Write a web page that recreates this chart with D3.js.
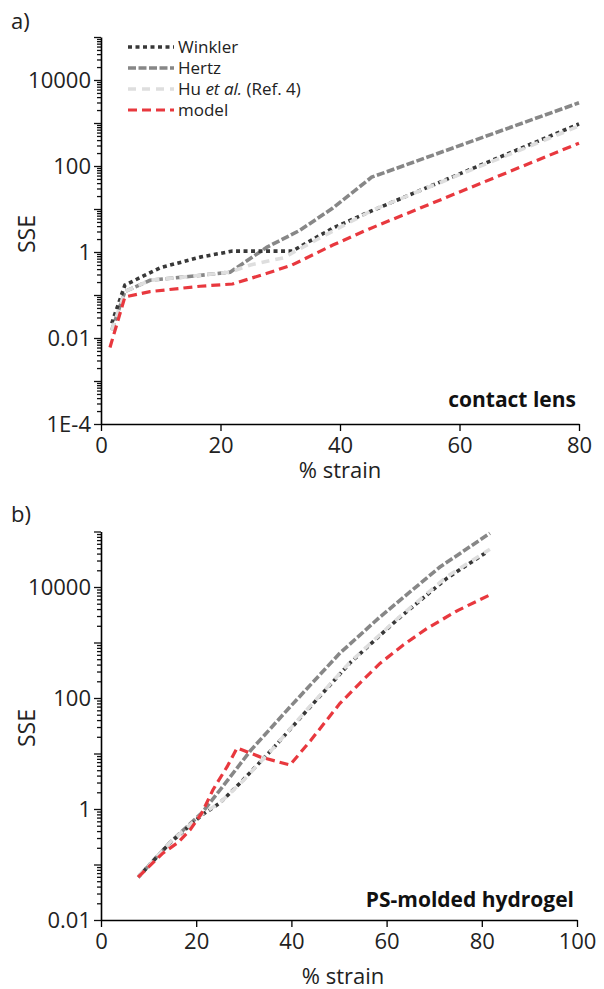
<!DOCTYPE html>
<html>
<head>
<meta charset="utf-8">
<script src="https://cdn.jsdelivr.net/npm/d3@7"></script>
<style>
  body { margin: 0; background: #fff; }
  svg text { font-family: "Open Sans", "Noto Sans", sans-serif; }
</style>
</head>
<body>
<div id="chart"></div>
<script>
// series names, colours and dash styles of the legend
let seriesNames = ["Winkler", "Hertz", "Hu et al. (Ref. 4)", "model"];

// panel a) contact lens  -- [% strain, SSE]
let lensWinkler = [[1.8,0.022],[4,0.17],[9.9,0.43],[16.6,0.76],[22,1.05],[32,1.05],[38.8,3.6],[44.5,8.1],[49.5,16],[80,950]];
let lensHertz = [[1.8,0.015],[4,0.12],[8.2,0.22],[13.7,0.26],[21.6,0.34],[27.8,1.3],[33.3,3.2],[38.8,10.5],[45.3,55],[80,2950]];
let lensHu = [[1.8,0.015],[4,0.12],[8.2,0.22],[13.7,0.26],[21.6,0.34],[25,0.5],[30.5,0.73],[36,1.9],[45.5,9.5],[80,850]];
let lensModel = [[1.5,0.006],[4,0.09],[8.2,0.12],[16.6,0.16],[22,0.18],[27.8,0.32],[32,0.5],[38.8,1.45],[44.8,3.4],[80,340]];

// panel b) PS-molded hydrogel
let hydroWinkler = [[7.8,0.059],[14.5,0.245],[21.2,0.78],[25,1.29],[29.8,3.3],[36,12],[43.3,60],[52.3,427],[62.2,2570],[72.7,14450],[80.7,40700]];
let hydroHertz = [[7.8,0.059],[14.5,0.25],[21.2,0.85],[25,2.2],[31.5,11.5],[39.5,66],[50.2,645],[58.6,2880],[71.2,22900],[81.7,93000]];
let hydroHu = [[7.8,0.059],[14.5,0.25],[21.2,0.8],[25,1.3],[29.8,3.2],[36,12],[43.3,62],[52.3,440],[62.2,2650],[72.7,15500],[81.7,48000]];
let hydroModel = [[7.8,0.059],[13,0.16],[16.2,0.25],[18.7,0.42],[21.2,0.85],[23.5,2.2],[26.5,5.8],[28.6,12.6],[33.4,8.7],[39.7,6.2],[44,17],[50.2,80],[54.5,190],[58.6,420],[63.5,900],[68.5,1800],[75,3800],[81.7,7200]];

let lensXTicks = [0, 20, 40, 60, 80];
let hydroXTicks = [0, 20, 40, 60, 80, 100];
let lensYLabels = [1e-4, 0.01, 1, 100, 10000];
let hydroYLabels = [0.01, 1, 100, 10000];

let styles = [
  {color: "#383838", dash: "4,3.5", width: 3.6},
  {color: "#878787", dash: "8,2.5", width: 3.6},
  {color: "#dedede", dash: "8,6", width: 3.6},
  {color: "#e8383e", dash: "9,5", width: 3.2}
];

const W = 604, H = 989;
const FONT = '"Open Sans", "Noto Sans", sans-serif';
const svg = d3.select("#chart").append("svg").attr("width", W).attr("height", H);

let yFmt = function(v){
  if (v === 1e-4) return "1E-4";
  return String(+v.toPrecision(3));
};

function minorTicks(lo, hi){
  let t = [];
  for (let e = Math.log10(lo); e < Math.log10(hi); e++){
    for (let m = 2; m <= 9; m++) t.push(m * Math.pow(10, e));
  }
  return t;
}
function decades(lo, hi){
  let t = [];
  for (let e = Math.log10(lo); e <= Math.log10(hi) + 1e-9; e++) t.push(Math.pow(10, e));
  return t;
}

function styleAxisText(a){
  a.attr("font-family", FONT).attr("font-size", null);
  a.selectAll("text").style("font-family", FONT).style("font-size", "22px").attr("fill", "#222");
}

function drawPanel(p){
  let x = d3.scaleLinear().domain(p.xDomain).range(p.xRange);
  let y = d3.scaleLog().domain(p.yDomain).range(p.yRange);
  let g = svg.append("g");

  // y axis: minor ticks, decade ticks, labels
  g.append("g").attr("transform", `translate(${p.xRange[0]},0)`)
    .call(d3.axisLeft(y).tickValues(minorTicks(p.yDomain[0], p.yDomain[1])).tickSize(4).tickSizeOuter(0).tickFormat(""))
    .call(a => a.select(".domain").remove());
  g.append("g").attr("transform", `translate(${p.xRange[0]},0)`)
    .call(d3.axisLeft(y).tickValues(decades(p.yDomain[0], p.yDomain[1])).tickSize(7).tickSizeOuter(0).tickPadding(3)
      .tickFormat(v => p.yLabels.some(l => Math.abs(l - v) / v < 1e-6) ? yFmt(v) : ""))
    .call(a => a.select(".domain").attr("stroke-width", 1.6))
    .call(styleAxisText);
  g.selectAll(".tick line").attr("stroke", "#111").attr("stroke-width", 1.3);

  // x axis
  g.append("g").attr("transform", `translate(0,${p.yRange[0]})`)
    .call(d3.axisBottom(x).tickValues(p.xTicks).tickSize(7).tickSizeOuter(0).tickPadding(6))
    .call(a => a.select(".domain").attr("stroke-width", 1.6))
    .call(a => a.selectAll(".tick line").attr("stroke-width", 1.3))
    .call(styleAxisText);

  // series (Hu drawn over Winkler so the two read as alternating where they overlap)
  let line = d3.line().x(d => x(d[0])).y(d => y(d[1]));
  [1, 0, 2, 3].forEach(i => {
    g.append("path").datum(p.series[i])
      .attr("d", line)
      .attr("fill", "none")
      .attr("stroke", styles[i].color)
      .attr("stroke-width", styles[i].width)
      .attr("stroke-dasharray", styles[i].dash);
  });

  // labels
  g.append("text").attr("x", 11).attr("y", p.tagY).style("font-size", "22px").attr("fill", "#222").text(p.tag);
  g.append("text").attr("transform", `translate(${p.sseX},${p.sseY}) rotate(-90)`)
    .attr("text-anchor", "middle").attr("dy", "0.35em").style("font-size", "23px").attr("fill", "#222").text("SSE");
  g.append("text").attr("x", p.strainX).attr("y", p.strainY).attr("text-anchor", "middle")
    .style("font-size", "22px").attr("fill", "#222").text("% strain");
  g.append("text").attr("x", p.nameX).attr("y", p.nameY).attr("text-anchor", "end")
    .style("font-size", "21px").attr("font-weight", 700).attr("fill", "#111").text(p.name);
  return g;
}

let ga = drawPanel({
  xDomain: [0, 80], xRange: [101, 579], yDomain: [1e-4, 1e5], yRange: [424, 37],
  xTicks: lensXTicks, yLabels: lensYLabels,
  series: [lensWinkler, lensHertz, lensHu, lensModel],
  tag: "a)", tagY: 29, sseX: 27, sseY: 234, strainX: 340, strainY: 478,
  name: "contact lens", nameX: 576, nameY: 407
});

drawPanel({
  xDomain: [0, 100], xRange: [101, 577], yDomain: [0.01, 1e5], yRange: [920, 531.5],
  xTicks: hydroXTicks, yLabels: hydroYLabels,
  series: [hydroWinkler, hydroHertz, hydroHu, hydroModel],
  tag: "b)", tagY: 522, sseX: 27, sseY: 728, strainX: 343, strainY: 984,
  name: "PS-molded hydrogel", nameX: 574, nameY: 907
});

// legend (panel a)
let legendY = [47, 68, 89, 110];
let lg = ga.append("g");
seriesNames.forEach((n, i) => {
  lg.append("line").attr("x1", 128).attr("x2", 174).attr("y1", legendY[i]).attr("y2", legendY[i])
    .attr("stroke", styles[i].color).attr("stroke-width", styles[i].width).attr("stroke-dasharray", styles[i].dash);
  let t = lg.append("text").attr("x", 178).attr("y", legendY[i]).attr("dy", "0.35em")
    .style("font-size", "17px").attr("fill", "#222");
  if (i === 2) {
    t.append("tspan").text("Hu ");
    t.append("tspan").attr("font-style", "italic").text("et al.");
    t.append("tspan").text(" (Ref. 4)");
  } else {
    t.text(n);
  }
});
</script>
</body>
</html>
